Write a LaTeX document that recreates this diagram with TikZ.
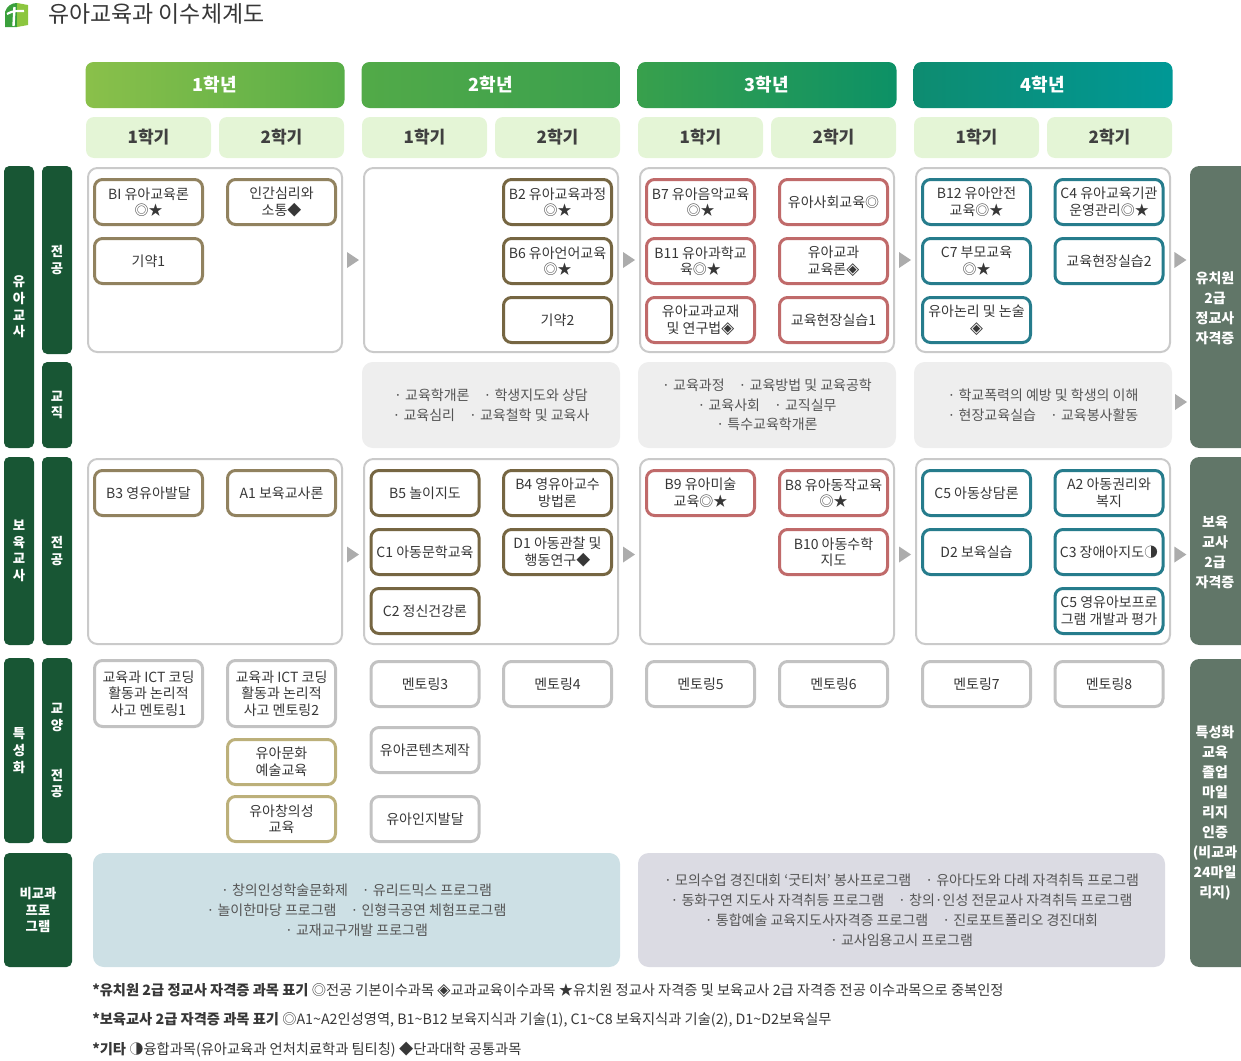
\documentclass[tikz,border=0pt]{standalone}
\usepackage{fontspec}
\setmainfont{Noto Sans CJK KR}
\newfontfamily\symf{DejaVu Sans}
\newcommand\dia{\scalebox{1.2}{\symf ◈}}
\usetikzlibrary{calc}
\definecolor{dkgreen}{RGB}{24,86,52}
\definecolor{rbar}{RGB}{97,118,104}
\definecolor{semfill}{RGB}{228,245,214}
\definecolor{semtext}{RGB}{64,64,64}
\definecolor{panelb}{RGB}{202,202,202}
\definecolor{kfill}{RGB}{238,238,238}
\definecolor{bya}{RGB}{145,130,95}
\definecolor{byb}{RGB}{118,102,66}
\definecolor{redc}{RGB}{192,106,106}
\definecolor{tealc}{RGB}{38,124,140}
\definecolor{grayb}{RGB}{194,194,194}
\definecolor{khaki}{RGB}{188,176,122}
\definecolor{txt}{RGB}{55,55,55}
\definecolor{ptxt}{RGB}{85,85,85}
\definecolor{bluep}{RGB}{205,224,229}
\definecolor{lavp}{RGB}{219,219,227}
\definecolor{arr}{RGB}{172,172,172}
\definecolor{yaL}{RGB}{138,192,74}
\definecolor{yaR}{RGB}{88,174,72}
\definecolor{ybL}{RGB}{82,170,72}
\definecolor{ybR}{RGB}{58,160,78}
\definecolor{ycL}{RGB}{56,160,76}
\definecolor{ycR}{RGB}{12,145,102}
\definecolor{ydL}{RGB}{14,140,112}
\definecolor{ydR}{RGB}{0,152,150}
\definecolor{logoL}{RGB}{58,160,60}
\definecolor{logoR}{RGB}{140,198,63}
\begin{document}
\begin{tikzpicture}[x=0.75pt,y=-0.75pt,
  yearhdr/.style={rounded corners=6pt, minimum width=194.25pt, minimum height=34.5pt, inner sep=0, text=white, font=\fontsize{13.5}{16}\selectfont\bfseries},
  semhdr/.style={rounded corners=6pt, fill=semfill, minimum width=93.75pt, minimum height=30.75pt, inner sep=0, text=semtext, font=\fontsize{12.75}{15}\selectfont\bfseries},
  panel/.style={draw=panelb, line width=1.5pt, rounded corners=7pt, fill=white, minimum width=190.5pt, inner sep=0},
  kpanel/.style={fill=kfill, rounded corners=8pt, minimum width=193.5pt, minimum height=64.5pt, inner sep=0, align=center, text=ptxt, font=\fontsize{10.5}{14.6}\selectfont},
  cbox/.style={draw, line width=2.25pt, rounded corners=6pt, fill=white, minimum width=81pt, minimum height=33.75pt, inner sep=0, align=center, text=txt, font=\fontsize{10.5}{12.4}\selectfont},
  ya/.style={cbox, draw=bya}, yb/.style={cbox, draw=byb}, yc/.style={cbox, draw=redc}, yd/.style={cbox, draw=tealc},
  yg/.style={cbox, draw=grayb}, yk/.style={cbox, draw=khaki},
  lbar/.style={fill=dkgreen, rounded corners=4pt, inner sep=0, text=white, align=center, font=\fontsize{10}{12.5}\selectfont\bfseries},
  rbarsty/.style={fill=rbar, rounded corners=7pt, inner sep=0, minimum width=52.5pt},
  rtext/.style={text=white, align=center, inner sep=0, font=\fontsize{10.5}{15}\selectfont\bfseries},
  tri/.pic={\fill[arr] (-6,-8) -- (6,0) -- (-6,8) -- cycle;}
]
\useasboundingbox (0,0) rectangle (1241,1060);
% logo and title
\fill[logoL] (5,27) -- (5,12) .. controls (7,6) and (11,3) .. (17,3) -- (17,27) -- cycle;
\fill[logoR] (17,3) -- (28,5) -- (28,25) -- (17,27) -- cycle;
\draw[white, line width=1.8pt] (14.5,7) -- (13.5,26);
\draw[white, line width=1.6pt] (7,14) .. controls (13,11) .. (24,11);
\node[anchor=west, inner sep=0, text=txt, font=\fontsize{17.2}{20}\selectfont] (title) at (48,14) {유아교육과 이수체계도};
% year headers
\node[yearhdr, left color=yaL, right color=yaR] (Y1) at (215,85) {1학년};
\node[yearhdr, left color=ybL, right color=ybR] (Y2) at (491,85) {2학년};
\node[yearhdr, left color=ycL, right color=ycR] (Y3) at (767,85) {3학년};
\node[yearhdr, left color=ydL, right color=ydR] (Y4) at (1043,85) {4학년};
% semester headers
\node[semhdr] (S11) at (148.5,137.5) {1학기};
\node[semhdr] (S12) at (281.5,137.5) {2학기};
\node[semhdr] (S21) at (424.5,137.5) {1학기};
\node[semhdr] (S22) at (557.5,137.5) {2학기};
\node[semhdr] (S31) at (700.5,137.5) {1학기};
\node[semhdr] (S32) at (833.5,137.5) {2학기};
\node[semhdr] (S41) at (976.5,137.5) {1학기};
\node[semhdr] (S42) at (1109.5,137.5) {2학기};
% left bars
\node[lbar, minimum width=22.5pt, minimum height=211.5pt] (L1) at (19,307) {유\\아\\교\\사};
\node[lbar, minimum width=22.5pt, minimum height=141pt] (L1a) at (57,260) {전\\공};
\node[lbar, minimum width=22.5pt, minimum height=64.5pt] (L1b) at (57,405) {교\\직};
\node[lbar, minimum width=22.5pt, minimum height=141pt] (L2) at (19,551) {보\\육\\교\\사};
\node[lbar, minimum width=22.5pt, minimum height=141pt] (L2a) at (57,551) {전\\공};
\node[lbar, minimum width=22.5pt, minimum height=138.75pt] (L3) at (19,750.5) {특\\성\\화};
\node[lbar, minimum width=22.5pt, minimum height=138.75pt] (L3a) at (57,750.5) {교\\양\\~\\~\\전\\공};
\node[lbar, minimum width=51pt, minimum height=85.5pt] (L4) at (38,910) {비교과\\프로\\그램};
% right bars
\node[rbarsty, minimum height=211.5pt] (R1) at (1225,307) {};
\node[rtext] (R1t) at (1215,308) {유치원\\2급\\정교사\\자격증};
\node[rbarsty, minimum height=141pt] (R2) at (1225,551) {};
\node[rtext] (R2t) at (1215,552) {보육\\교사\\2급\\자격증};
\node[rbarsty, minimum height=231pt] (R3) at (1225,813) {};
\node[rtext] (R3t) at (1215,813) {특성화\\교육\\졸업\\마일\\리지\\인증\\(비교과\\24마일\\리지)};
% panels
\node[panel, minimum height=138pt] (P1) at (215,260) {};
\node[panel, minimum height=138pt] (P2) at (491,260) {};
\node[panel, minimum height=138pt] (P3) at (767,260) {};
\node[panel, minimum height=138pt] (P4) at (1043,260) {};
\node[kpanel] (K2) at (491,405) {· 교육학개론\quad · 학생지도와 상담\\· 교육심리\quad · 교육철학 및 교육사};
\node[kpanel] (K3) at (767,405) {· 교육과정\quad · 교육방법 및 교육공학\\· 교육사회\quad · 교직실무\\· 특수교육학개론};
\node[kpanel] (K4) at (1043,405) {· 학교폭력의 예방 및 학생의 이해\\· 현장교육실습\quad · 교육봉사활동};
\node[panel, minimum height=138.75pt] (Q1) at (215,551.5) {};
\node[panel, minimum height=138.75pt] (Q2) at (491,551.5) {};
\node[panel, minimum height=138.75pt] (Q3) at (767,551.5) {};
\node[panel, minimum height=138.75pt] (Q4) at (1043,551.5) {};
\node[fill=bluep, rounded corners=8pt, minimum width=395.25pt, minimum height=85.5pt, inner sep=0, align=center, text=ptxt, font=\fontsize{10.5}{15}\selectfont] (E1) at (356.5,910) {· 창의인성학술문화제\quad · 유리드믹스 프로그램\\· 놀이한마당 프로그램\quad · 인형극공연 체험프로그램\\· 교재교구개발 프로그램};
\node[fill=lavp, rounded corners=8pt, minimum width=395.25pt, minimum height=85.5pt, inner sep=0, align=center, text=ptxt, font=\fontsize{10.5}{15}\selectfont] (E2) at (901.5,910) {· 모의수업 경진대회 ‘굿티처’ 봉사프로그램\quad · 유아다도와 다례 자격취득 프로그램\\· 동화구연 지도사 자격취등 프로그램\quad · 창의·인성 전문교사 자격취득 프로그램\\· 통합예술 교육지도사자격증 프로그램\quad · 진로포트폴리오 경진대회\\· 교사임용고시 프로그램};
% arrows
\pic at ($(P1.east)!0.5!(P2.west)$) {tri};
\pic at ($(P2.east)!0.5!(P3.west)$) {tri};
\pic at ($(P3.east)!0.5!(P4.west)$) {tri};
\pic at ($(P4.east)!0.5!(P4.east -| R1.west)$) {tri};
\pic at ($(K4.east)!0.5!(K4.east -| R1.west)+(0,-3)$) {tri};
\pic at ($(Q1.east)!0.5!(Q2.west)+(0,3)$) {tri};
\pic at ($(Q2.east)!0.5!(Q3.west)+(0,3)$) {tri};
\pic at ($(Q3.east)!0.5!(Q4.west)+(0,3)$) {tri};
\pic at ($(Q4.east)!0.5!(Q4.east -| R2.west)+(0,3)$) {tri};
% 유아교사 전공 courses
\node[ya] (a1) at (148.5,202) {BI 유아교육론\\◎★};
\node[ya] (a2) at (281.5,202) {인간심리와\\소통◆};
\node[ya] (a3) at (148.5,261) {기약1};
\node[yb] (b1) at (557.5,202) {B2 유아교육과정\\◎★};
\node[yb] (b2) at (557.5,261) {B6 유아언어교육\\◎★};
\node[yb] (b3) at (557.5,320) {기약2};
\node[yc] (c1) at (700.5,202) {B7 유아음악교육\\◎★};
\node[yc] (c2) at (833.5,202) {유아사회교육◎};
\node[yc] (c3) at (700.5,261) {B11 유아과학교\\육◎★};
\node[yc] (c4) at (833.5,261) {유아교과\\교육론\dia};
\node[yc] (c5) at (700.5,320) {유아교과교재\\및 연구법\dia};
\node[yc] (c6) at (833.5,320) {교육현장실습1};
\node[yd] (d1) at (976.5,202) {B12 유아안전\\교육◎★};
\node[yd] (d2) at (1109,202) {C4 유아교육기관\\운영관리◎★};
\node[yd] (d3) at (976.5,261) {C7 부모교육\\◎★};
\node[yd] (d4) at (1109,261) {교육현장실습2};
\node[yd] (d5) at (976.5,320) {유아논리 및 논술\\\dia};
% 보육교사 전공 courses
\node[ya] (e1) at (148.5,493) {B3 영유아발달};
\node[ya] (e2) at (281.5,493) {A1 보육교사론};
\node[yb] (f1) at (425,493) {B5 놀이지도};
\node[yb] (f2) at (557.5,493) {B4 영유아교수\\방법론};
\node[yb] (f3) at (425,552) {C1 아동문학교육};
\node[yb] (f4) at (557.5,552) {D1 아동관찰 및\\행동연구◆};
\node[yb] (f5) at (425,611) {C2 정신건강론};
\node[yc] (g1) at (700.5,493) {B9 유아미술\\교육◎★};
\node[yc] (g2) at (833.5,493) {B8 유아동작교육\\◎★};
\node[yc] (g3) at (833.5,552) {B10 아동수학\\지도};
\node[yd] (h1) at (976.5,493) {C5 아동상담론};
\node[yd] (h2) at (1109,493) {A2 아동권리와\\복지};
\node[yd] (h3) at (976.5,552) {D2 보육실습};
\node[yd] (h4) at (1109,552) {C3 장애아지도◑};
\node[yd] (h5) at (1109,611) {C5 영유아보프로\\그램 개발과 평가};
% 특성화 courses
\node[yg, minimum height=49.5pt] (i1) at (148.5,693.5) {교육과 ICT 코딩\\활동과 논리적\\사고 멘토링1};
\node[yg, minimum height=49.5pt] (i2) at (281.5,693.5) {교육과 ICT 코딩\\활동과 논리적\\사고 멘토링2};
\node[yk] (i3) at (281.5,762) {유아문화\\예술교육};
\node[yk] (i4) at (281.5,819) {유아창의성\\교육};
\node[yg] (j1) at (425,684) {멘토링3};
\node[yg] (j2) at (557.5,684) {멘토링4};
\node[yg] (j3) at (425,750) {유아콘텐츠제작};
\node[yg] (j4) at (425,819) {유아인지발달};
\node[yg] (k1) at (700.5,684) {멘토링5};
\node[yg] (k2) at (833.5,684) {멘토링6};
\node[yg] (k3) at (976.5,684) {멘토링7};
\node[yg] (k4) at (1109,684) {멘토링8};
% legend
\begin{scope}[every node/.style={anchor=west, inner sep=0, text=txt, font=\fontsize{10.7}{12}\selectfont}]
\node (n1) at (92,991) {\textbf{*유치원 2급 정교사 자격증 과목 표기} ◎전공 기본이수과목 \dia 교과교육이수과목 ★유치원 정교사 자격증 및 보육교사 2급 자격증 전공 이수과목으로 중복인정};
\node (n2) at (92,1020) {\textbf{*보육교사 2급 자격증 과목 표기} ◎A1\textasciitilde A2인성영역, B1\textasciitilde B12 보육지식과 기술(1), C1\textasciitilde C8 보육지식과 기술(2), D1\textasciitilde D2보육실무};
\node (n3) at (92,1050) {\textbf{*기타} ◑융합과목(유아교육과 언처치료학과 팀티칭) ◆단과대학 공통과목};
\end{scope}
\end{tikzpicture}
\end{document}
